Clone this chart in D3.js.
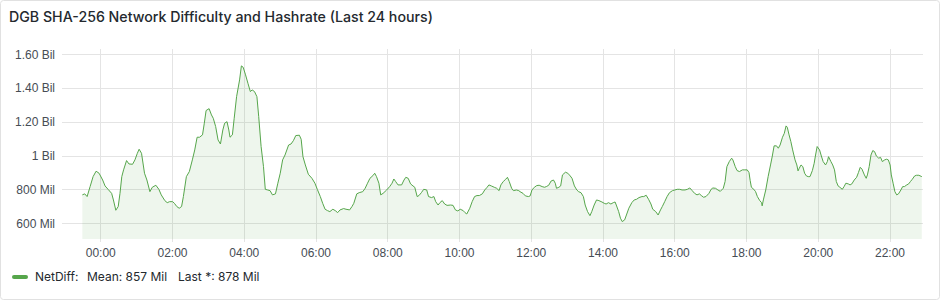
<!DOCTYPE html>
<html>
<head>
<meta charset="utf-8">
<script src="https://cdn.jsdelivr.net/npm/d3@7"></script>
<style>
  body { margin: 0; background: #fff; }
  svg { font-family: Inter, "Noto Sans", sans-serif; display: block; }
  .grid line { stroke: #e4e4e4; shape-rendering: crispEdges; }
  .axis text { fill: #464c54; font-size: 12px; }
</style>
</head>
<body>
<svg id="chart" width="940" height="300"></svg>
<script>
// minutes from 00:00 (negative = previous day), NetDiff in millions
var minutes = [-30,-26,-22,-17,-12,-7,-2,4,8,13,19,22,26,30,33,36,39,44,48,54,58,62,65,69,74,78,83,87,93,98,
  102,108,112,116,121,124,128,132,136,139,144,149,154,158,162,166,171,174,177,182,186,189,193,197,201,205,208,212,215,217,
  221,224,228,233,236,239,243,247,251,254,258,262,265,269,273,276,280,284,288,293,297,301,305,309,315,319,323,327,333,
  336,339,343,348,354,359,363,368,372,376,380,384,389,393,397,401,407,411,417,421,424,429,433,439,443,447,451,456,459,
  462,466,469,473,479,484,488,491,494,498,504,508,511,515,519,523,526,530,533,537,541,546,549,554,558,561,565,568,572,
  576,580,586,590,594,598,602,607,610,613,618,622,626,630,634,639,643,647,650,654,659,663,667,670,674,678,681,684,688,
  691,696,700,702,707,711,716,719,722,726,730,734,739,743,746,750,754,758,761,763,767,770,773,778,782,786,789,793,797,
  800,804,808,811,815,819,822,826,830,834,839,843,846,850,854,858,861,863,867,870,873,877,880,884,889,893,897,901,906,
  909,913,917,921,924,929,933,937,940,944,948,952,957,961,965,969,973,978,982,986,990,994,998,1002,1006,1009,1013,1018,
  1021,1024,1029,1033,1037,1042,1045,1048,1052,1056,1058,1062,1065,1069,1074,1078,1082,1085,1087,1089,1093,1096,1099,
  1103,1106,1107,1109,1113,1117,1121,1124,1127,1131,1134,1137,1141,1144,1147,1149,1152,1155,1158,1162,1165,1167,1169,
  1172,1175,1178,1181,1184,1187,1191,1194,1196,1199,1203,1206,1209,1213,1216,1218,1222,1225,1228,1231,1234,1237,1241,
  1244,1247,1251,1254,1257,1261,1265,1268,1271,1274,1278,1281,1283,1286,1289,1292,1295,1298,1302,1305,1308,1312,1315,
  1318,1321,1323,1326,1329,1332,1335,1339,1342,1345,1348,1352,1355,1358,1362,1365,1369,1374];
var netDiff = [768,774,758,817,876,908,896,856,821,801,777,738,677,699,777,876,916,971,951,949,975,1014,1038,1014,896,856,787,813,825,801,
  768,734,722,728,728,718,699,689,699,758,876,906,975,1034,1109,1109,1123,1192,1267,1278,1241,1221,1172,1093,1069,1152,1192,1201,1152,1109,
  1123,1221,1349,1448,1531,1523,1478,1428,1379,1389,1379,1349,1231,1054,935,801,797,793,768,774,837,896,975,1004,1063,1069,1089,1119,1121,
  1097,994,945,890,866,837,801,758,718,683,675,669,683,675,663,679,687,683,679,699,718,774,781,787,807,837,866,882,896,
  876,837,768,777,797,817,837,862,847,827,827,856,872,866,833,821,813,758,764,781,801,797,758,752,758,728,708,722,734,
  714,706,708,706,679,673,683,675,663,655,689,728,758,764,764,774,797,813,827,821,813,807,793,827,847,860,872,847,807,
  793,797,793,787,777,762,758,762,797,813,823,825,817,813,817,825,850,856,837,807,813,821,886,902,896,880,866,821,797,
  787,781,758,708,669,645,669,708,738,734,726,718,714,722,714,722,726,708,669,630,610,620,649,689,722,738,742,752,758,
  758,766,742,714,683,669,649,679,699,728,758,781,793,797,801,801,797,797,801,809,793,777,768,774,762,754,758,777,
  797,809,807,797,789,807,847,935,965,985,975,935,912,906,916,916,916,900,852,813,801,787,758,
  734,722,703,738,797,876,945,998,1058,1058,1044,1063,1109,1132,1176,1168,1123,1083,1034,975,945,910,925,
  945,935,896,880,876,876,912,955,998,1054,1034,998,965,945,965,994,965,945,916,847,821,813,801,
  817,837,833,827,833,856,872,900,931,920,886,866,886,935,1004,1030,1024,998,985,990,965,975,979,
  975,945,886,837,787,768,774,797,817,817,825,833,847,860,880,884,884,876];
var yTicks = [600, 800, 1000, 1200, 1400, 1600];
var seriesName = "NetDiff";
var legendStats = ["Mean: 857 Mil", "Last *: 878 Mil"];
var title = "DGB SHA-256 Network Difficulty and Hashrate (Last 24 hours)";

var base = new Date(2024, 0, 2, 0, 0);
function toDate(m) { return new Date(base.getTime() + m * 60000); }
var data = minutes.map(function(m, i) { return {t: toDate(m), v: netDiff[i]}; });

var svg = d3.select("#chart");
var plot = {left: 62, right: 923, top: 49, bottom: 239};

// panel
svg.append("rect").attr("x", 0.5).attr("y", 0.5).attr("width", 939).attr("height", 299)
  .attr("rx", 3).attr("fill", "#fff").attr("stroke", "#e1e1e1");
svg.append("text").attr("x", 9).attr("y", 22).text(title)
  .style("font-size", "14.2px").style("font-weight", 500).style("fill", "#24292e");

var x = d3.scaleTime().domain([toDate(-64), toDate(1376)]).range([plot.left, plot.right]);
var y = d3.scaleLinear().domain([507, 1631]).range([plot.bottom, plot.top]);

var xTicks = d3.timeHour.every(2).range(toDate(-64), toDate(1376));

// grid
var grid = svg.append("g").attr("class", "grid");
grid.selectAll(".h").data(yTicks).enter().append("line")
  .attr("x1", plot.left).attr("x2", plot.right)
  .attr("y1", function(d) { return Math.round(y(d)) + 0.5; })
  .attr("y2", function(d) { return Math.round(y(d)) + 0.5; });
grid.selectAll(".v").data(xTicks).enter().append("line")
  .attr("y1", plot.top).attr("y2", plot.bottom + 3)
  .attr("x1", function(d) { return Math.round(x(d)) + 0.5; })
  .attr("x2", function(d) { return Math.round(x(d)) + 0.5; });

// series
var area = d3.area().x(function(d) { return x(d.t); }).y0(plot.bottom).y1(function(d) { return y(d.v); });
var line = d3.line().x(function(d) { return x(d.t); }).y(function(d) { return y(d.v); });
svg.append("path").datum(data).attr("d", area).attr("fill", "#56a64b").attr("fill-opacity", 0.1);
svg.append("path").datum(data).attr("d", line).attr("fill", "none")
  .attr("stroke", "#56a64b").attr("stroke-width", 1).attr("stroke-linejoin", "round");

// axes
function fmtY(v) {
  if (v >= 1000) return (v === 1000 ? "1" : (v / 1000).toFixed(2)) + " Bil";
  return v + " Mil";
}
var yAxis = svg.append("g").attr("class", "axis")
  .attr("transform", "translate(55,0)")
  .call(d3.axisLeft(y).tickValues(yTicks).tickFormat(fmtY).tickSize(0).tickPadding(0));
yAxis.select(".domain").remove();

var xAxis = svg.append("g").attr("class", "axis")
  .attr("transform", "translate(0," + 247 + ")")
  .call(d3.axisBottom(x).tickValues(xTicks).tickFormat(d3.timeFormat("%H:%M")).tickSize(0).tickPadding(0));
xAxis.select(".domain").remove();
xAxis.selectAll("text").attr("dy", "0.85em");

// legend
var lg = svg.append("g").attr("transform", "translate(0,277)");
lg.append("line").attr("x1", 14).attr("x2", 26).attr("y1", 0).attr("y2", 0)
  .attr("stroke", "#56a64b").attr("stroke-width", 4).attr("stroke-linecap", "round");
var lt = lg.append("text").attr("y", 4).style("font-size", "12px").style("fill", "#24292e");
lt.append("tspan").attr("x", 35).text(seriesName + ":");
lt.append("tspan").attr("x", 87).text(legendStats[0]);
lt.append("tspan").attr("x", 178).text(legendStats[1]);
</script>
</body>
</html>
